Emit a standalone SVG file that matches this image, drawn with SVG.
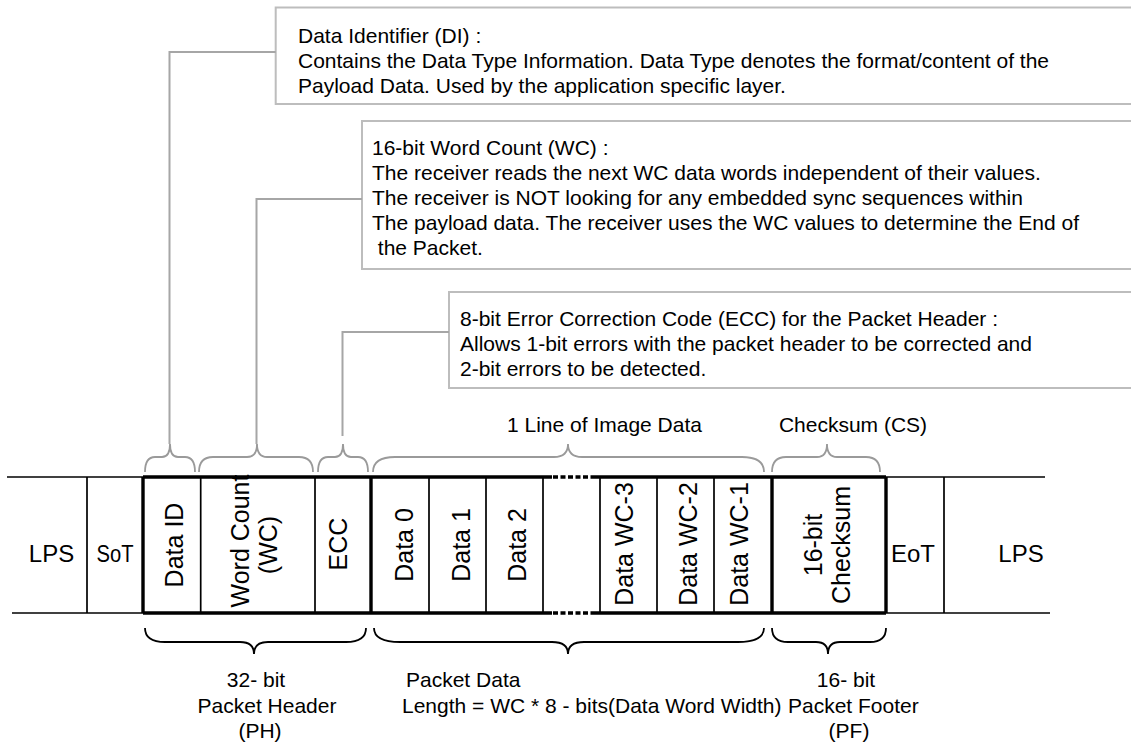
<svg xmlns="http://www.w3.org/2000/svg" width="1131" height="745" viewBox="0 0 1131 745">
<style>
text{font-family:"Liberation Sans",Arial,sans-serif;fill:#000}
.box{fill:#fff;stroke:#bdbdbd;stroke-width:2}
.bt{font-size:21px}
.lbl{font-size:21px}
.cell{font-size:24px}
.rot{font-size:25px}
.thin{stroke:#000;stroke-width:1.7;fill:none}
.thick{stroke:#000;stroke-width:3.4;fill:none}
.dots{stroke:#000;stroke-width:3.4;stroke-dasharray:5 2.5;fill:none}
.conn{stroke:#a6a6a6;stroke-width:2;fill:none}
.brg{stroke:#9a9a9a;stroke-width:1.8;fill:none}
.brk{stroke:#000;stroke-width:1.8;fill:none}
</style>
<rect width="1131" height="745" fill="#fff"/>

<g id="callout-di">
<rect class="box" x="275.7" y="7.5" width="900" height="96.5"/>
<text class="bt" x="298" y="43">Data Identifier (DI) :</text>
<text class="bt" x="298" y="68">Contains the Data Type Information. Data Type denotes the format/content of the</text>
<text class="bt" x="298" y="93">Payload Data. Used by the application specific layer.</text>
</g>
<g id="callout-wc">
<rect class="box" x="362" y="121" width="820" height="148"/>
<text class="bt" x="372" y="155">16-bit Word Count (WC)  :</text>
<text class="bt" x="372" y="180">The receiver reads the next WC data words independent of their values.</text>
<text class="bt" x="372" y="205">The receiver is NOT looking for any embedded sync sequences within</text>
<text class="bt" x="372" y="230">The payload data. The receiver uses the WC values to determine the End of</text>
<text class="bt" x="372" y="255" xml:space="preserve"> the Packet.</text>
</g>
<g id="callout-ecc">
<rect class="box" x="449" y="292" width="720" height="96"/>
<text class="bt" x="460" y="326">8-bit Error Correction Code (ECC) for the Packet Header :</text>
<text class="bt" x="460" y="351">Allows 1-bit errors with the packet header to be corrected and</text>
<text class="bt" x="460" y="376">2-bit errors to be detected.</text>
</g>

<g id="connectors">
<path class="conn" d="M275.7,52 H169.5 V444"/>
<path class="conn" d="M362,199 H256.5 V444"/>
<path class="conn" d="M449,332 H342.5 V436"/>
<path class="brg" d="M145,472 Q145,457 155,457 L162,457 Q170,457 170,444 Q170,457 178,457 L185,457 Q195,457 195,472"/>
<path class="brg" d="M199,472 Q199,457 213,457 L247,457 Q257,457 257,444 Q257,457 267,457 L299,457 Q313,457 313,472"/>
<path class="brg" d="M318,472 Q318,457 328,457 L335,457 Q343,457 343,444 Q343,457 351,457 L358,457 Q368,457 368,472"/>
<path class="brg" d="M373,472 Q373,457 395,457 L554,457 Q568,457 568,444 Q568,457 582,457 L742,457 Q764,457 764,472"/>
<path class="brg" d="M772,472 Q772,457 786,457 L817,457 Q827,457 827,444 Q827,457 837,457 L866,457 Q880,457 880,472"/>
<path class="brk" d="M145,628 Q145,642 165,642 L240,642 Q254,642 254,654 Q254,642 268,642 L346,642 Q366,642 366,628"/>
<path class="brk" d="M374,628 Q374,642 400,642 L552,642 Q568,642 568,654 Q568,642 584,642 L738,642 Q764,642 764,628"/>
<path class="brk" d="M772,628 Q772,642 788,642 L816,642 Q828,642 828,654 Q828,642 840,642 L870,642 Q886,642 886,628"/>
</g>

<g id="frame">
<line class="thin" x1="7" y1="477" x2="143" y2="477"/>
<line class="thin" x1="12" y1="613" x2="143" y2="613"/>
<line class="thin" x1="886" y1="477" x2="1045" y2="477"/>
<line class="thin" x1="886" y1="613" x2="1050" y2="613"/>
<path class="thick" d="M143,477 H552 M592,477 H886 M143,613 H552 M592,613 H886"/>
<path class="dots" d="M553,477 H592 M553,613 H592"/>
<path class="thin" d="M87,477 V613 M200.7,477 V613 M315,477 V613 M429,477 V613 M486,477 V613 M543,477 V613 M600,477 V613 M657,477 V613 M714,477 V613 M944,477 V613"/>
<path class="thick" d="M143,477 V613 M371,477 V613 M772,477 V613 M886,477 V613"/>
</g>

<g id="lps-left"><text class="cell" x="51.5" y="562" text-anchor="middle">LPS</text></g>
<g id="sot"><text class="cell" x="115" y="562" text-anchor="middle" textLength="37" lengthAdjust="spacingAndGlyphs">SoT</text></g>
<g id="data-id"><text class="rot" transform="translate(183,545) rotate(-90)" text-anchor="middle">Data ID</text></g>
<g id="word-count"><text class="rot" transform="translate(249,541) rotate(-90)" text-anchor="middle">Word Count</text><text class="rot" transform="translate(277,545) rotate(-90)" text-anchor="middle">(WC)</text></g>
<g id="ecc"><text class="rot" transform="translate(347,544) rotate(-90)" text-anchor="middle">ECC</text></g>
<g id="data0"><text class="rot" transform="translate(413,545) rotate(-90)" text-anchor="middle">Data 0</text></g>
<g id="data1"><text class="rot" transform="translate(470,545) rotate(-90)" text-anchor="middle">Data 1</text></g>
<g id="data2"><text class="rot" transform="translate(526,545) rotate(-90)" text-anchor="middle">Data 2</text></g>
<g id="data-wc3"><text class="rot" transform="translate(633,544) rotate(-90)" text-anchor="middle">Data WC-3</text></g>
<g id="data-wc2"><text class="rot" transform="translate(697,544) rotate(-90)" text-anchor="middle">Data WC-2</text></g>
<g id="data-wc1"><text class="rot" transform="translate(748,544) rotate(-90)" text-anchor="middle">Data WC-1</text></g>
<g id="checksum"><text class="rot" transform="translate(822,545) rotate(-90)" text-anchor="middle">16-bit</text><text class="rot" transform="translate(850,545) rotate(-90)" text-anchor="middle">Checksum</text></g>
<g id="eot"><text class="cell" x="913" y="562" text-anchor="middle">EoT</text></g>
<g id="lps-right"><text class="cell" x="1021" y="562" text-anchor="middle">LPS</text></g>

<g id="labels">
<text class="lbl" x="604.5" y="432" text-anchor="middle">1 Line of Image Data</text>
<text class="lbl" x="853" y="432" text-anchor="middle">Checksum (CS)</text>
<text class="lbl" x="256" y="687" text-anchor="middle">32- bit</text>
<text class="lbl" x="267" y="713" text-anchor="middle">Packet Header</text>
<text class="lbl" x="260" y="738" text-anchor="middle">(PH)</text>
<text class="lbl" x="406" y="687">Packet Data</text>
<text class="lbl" x="402" y="713">Length = WC * 8 - bits(Data Word Width)</text>
<text class="lbl" x="788" y="713">Packet Footer</text>
<text class="lbl" x="846" y="687" text-anchor="middle">16- bit</text>
<text class="lbl" x="849" y="738" text-anchor="middle">(PF)</text>
</g>
</svg>
